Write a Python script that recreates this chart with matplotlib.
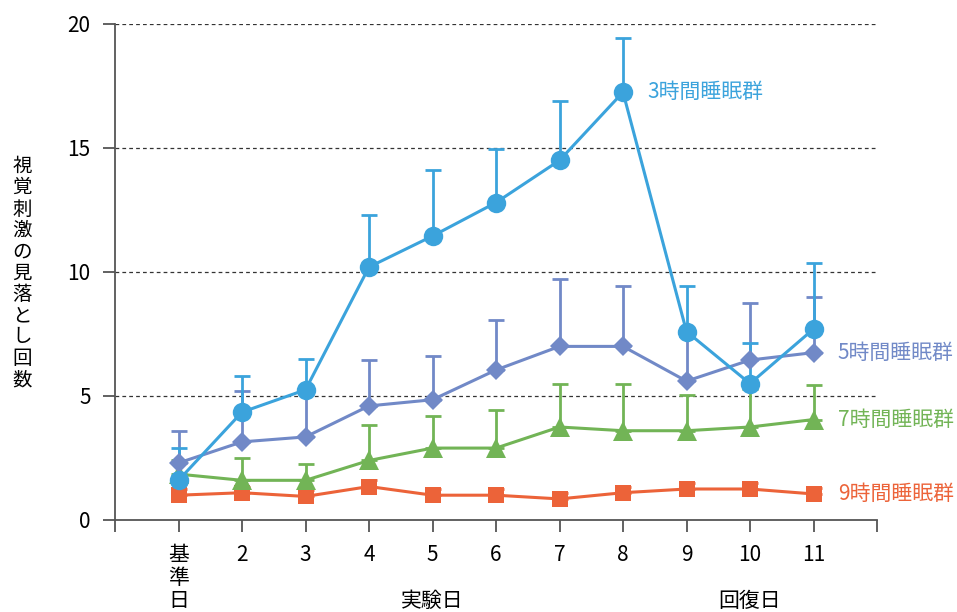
import numpy as np
import matplotlib
matplotlib.use("Agg")
import matplotlib.pyplot as plt
import matplotlib.transforms as mtransforms

plt.rcParams['font.family'] = ['Noto Sans CJK JP', 'DejaVu Sans']

days = np.arange(1, 12)
day_labels = ['基\n準\n日', '2', '3', '4', '5', '6', '7', '8', '9', '10', '11']

# mean misses per group, and upper SD
h3_mean = [1.6, 4.35, 5.25, 10.2, 11.45, 12.8, 14.5, 17.25, 7.6, 5.5, 7.7]
h3_sd = [1.3, 1.45, 1.25, 2.1, 2.65, 2.15, 2.4, 2.2, 1.85, 1.65, 2.65]
h5_mean = [2.3, 3.15, 3.35, 4.6, 4.85, 6.05, 7.0, 7.0, 5.6, 6.45, 6.75]
h5_sd = [1.3, 2.05, 1.95, 1.85, 1.75, 2.0, 2.7, 2.45, 1.8, 2.3, 2.25]
h7_mean = [1.85, 1.6, 1.6, 2.4, 2.9, 2.9, 3.75, 3.6, 3.6, 3.75, 4.05]
h7_sd = [0.55, 0.9, 0.65, 1.45, 1.3, 1.55, 1.75, 1.9, 1.45, 1.55, 1.4]
h9_mean = [1.0, 1.1, 0.95, 1.35, 1.0, 1.0, 0.85, 1.1, 1.25, 1.25, 1.05]
h9_sd = [0.25, 0.25, 0.25, 0.25, 0.25, 0.25, 0.25, 0.25, 0.25, 0.25, 0.25]

groups = [
    ('9時間睡眠群', h9_mean, h9_sd, '#EC6339', 's', 11),
    ('7時間睡眠群', h7_mean, h7_sd, '#72B456', '^', 14),
    ('5時間睡眠群', h5_mean, h5_sd, '#7189C7', 'D', 10),
    ('3時間睡眠群', h3_mean, h3_sd, '#3BA3DC', 'o', 14),
]

fig = plt.figure(figsize=(9.57, 6.12), dpi=100)
ax = fig.add_axes([115/957, 1 - 520/612, (877-115)/957, (520-24)/612])

# error bars first (upper only), then lines/markers on top
for i, (name, m, sd, c, mk, ms) in enumerate(groups):
    yerr = [np.zeros(len(sd)), sd]
    ax.errorbar(days, m, yerr=yerr, fmt='none', ecolor=c, elinewidth=2,
                capsize=5.5, capthick=2, zorder=2 + i * 0.1)
for i, (name, m, sd, c, mk, ms) in enumerate(groups):
    ax.plot(days, m, color=c, lw=2.2, marker=mk, markersize=ms,
            markeredgewidth=0, zorder=3 + i * 0.1)

# group labels
ax.text(8.38, h3_mean[7], '3時間睡眠群', color='#3BA3DC', fontsize=15,
        ha='left', va='center')
for name, m, sd, c, mk, ms in groups[:3]:
    ax.text(11.38, m[-1], name, color=c, fontsize=15, ha='left', va='center')

ax.set_xlim(0, 12)
ax.set_ylim(0, 20)
ax.set_yticks([0, 5, 10, 15, 20])
ax.set_xticks(np.arange(0, 13))
ax.set_xticklabels([''] + day_labels + [''], va='top', linespacing=1.05)
for y in [5, 10, 15, 20]:
    ax.axhline(y, color='#333333', lw=0.9, ls=(0, (3, 2.5)), zorder=1)

for s in ['top', 'right']:
    ax.spines[s].set_visible(False)
for s in ['left', 'bottom']:
    ax.spines[s].set_color('#555555')
    ax.spines[s].set_linewidth(1.3)
ax.tick_params(axis='both', direction='out', length=8.5, width=1.3,
               color='#555555', labelsize=15, pad=9)

tr = mtransforms.blended_transform_factory(ax.transData, fig.transFigure)
ax.text(5, 1 - 601/612, '実験日', transform=tr, ha='center', va='center', fontsize=15)
ax.text(10, 1 - 601/612, '回復日', transform=tr, ha='center', va='center', fontsize=15)

fig.text(22/957, 1 - 273/612, '\n'.join('視覚刺激の見落とし回数'), ha='center',
         va='center', fontsize=14, linespacing=1.02)

fig.savefig('out.png', dpi=100)
